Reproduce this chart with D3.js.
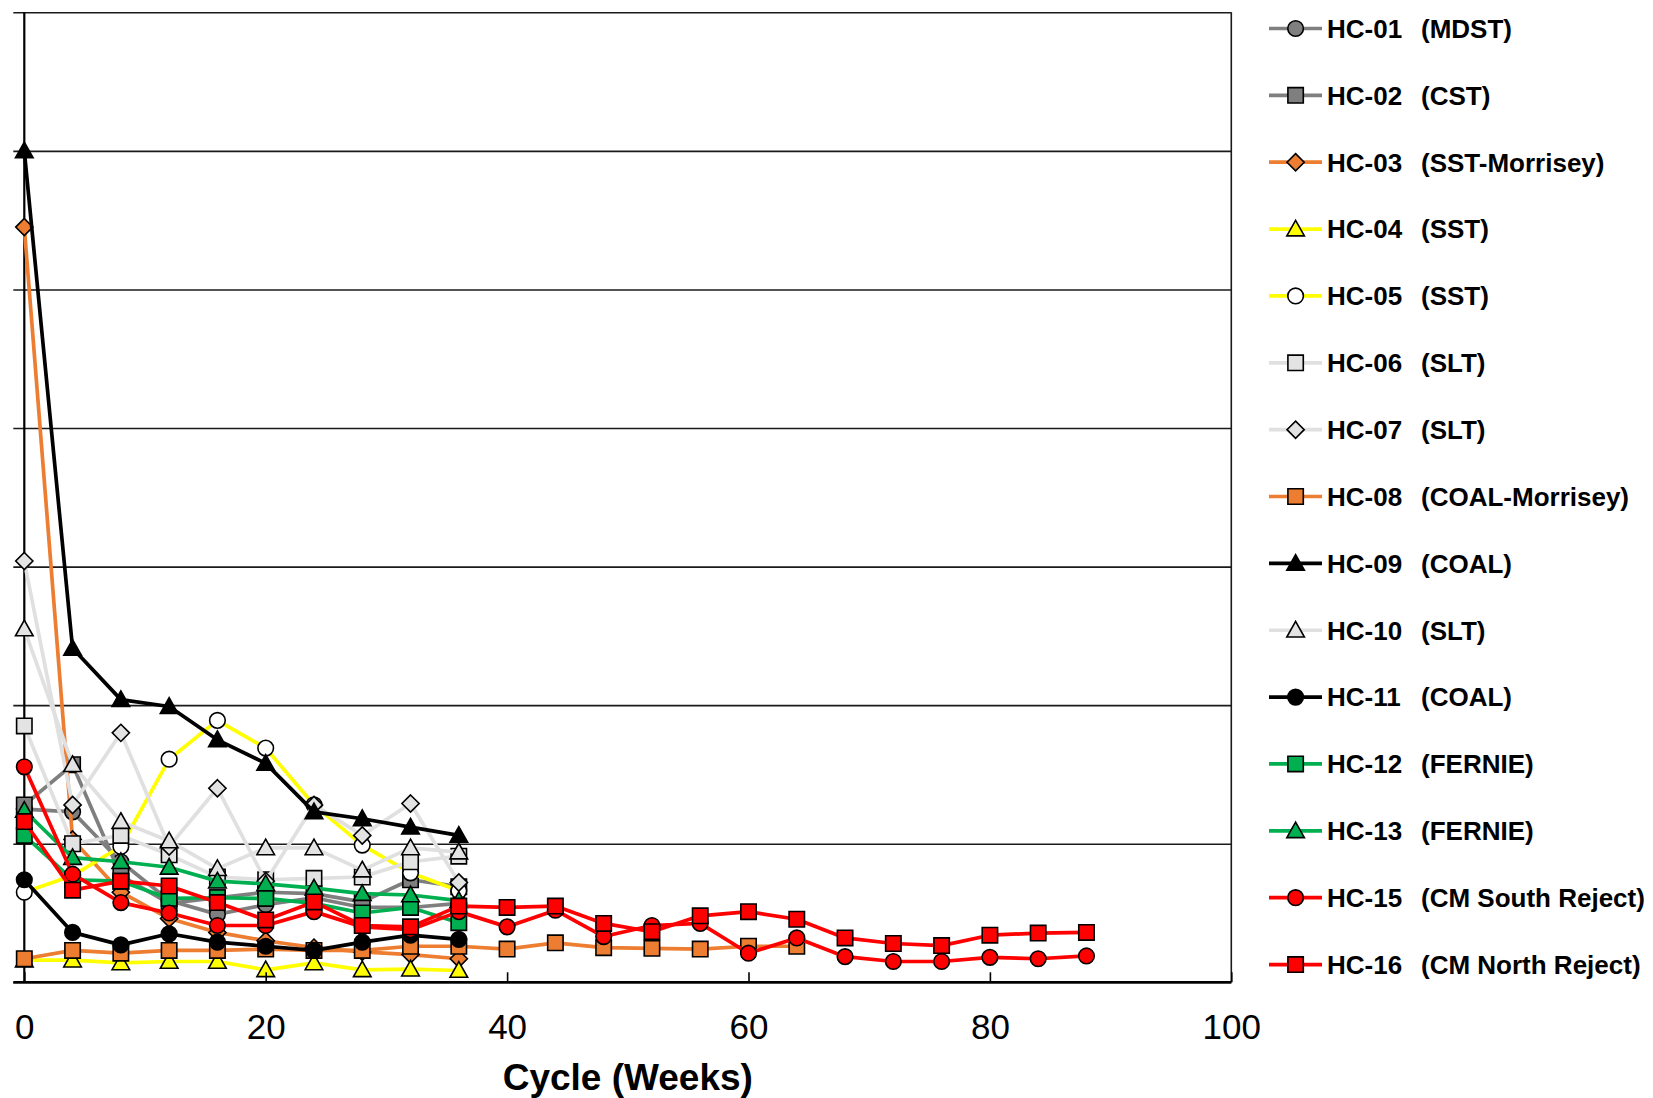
<!DOCTYPE html>
<html><head><meta charset="utf-8">
<script src="https://cdn.jsdelivr.net/npm/d3@7/dist/d3.min.js"></script>
<style>
body{margin:0;background:#fff}
svg{display:block}
text{font-family:Arial,"Liberation Sans",sans-serif}
</style>
</head><body>
<svg id="chart" width="1653" height="1098"></svg>
<script>
// ---- data ----
const weeksShort = [0,4,8,12,16,20,24,28,32,36];
const weeksMid = [0,4,8,12,16,20,24,28,32,36,40,44,48,52,56,60,64];
const weeksLong = [0,4,8,12,16,20,24,28,32,36,40,44,48,52,56,60,64,68,72,76,80,84,88];
const xTicks = [0,20,40,60,80,100];
const yTicks = [0,10,20,30,40,50,60,70];

const hc01 = [12.5,12.3,8.7,5.9,4.9,5.6,6.1,5.4,5.4,5.7];
const hc02 = [12.8,15.7,7.7,5.7,6.1,6.5,6.4,5.8,7.4,6.9];
const hc03 = [54.5,10.3,6.5,4.6,3.6,3.0,2.5,2.2,2.0,1.7];
const hc04 = [1.6,1.6,1.4,1.5,1.5,0.9,1.4,0.9,0.95,0.85];
const hc05 = [6.5,7.7,9.8,16.1,18.9,16.9,12.8,9.9,7.9,6.6];
const hc06 = [18.5,10.0,10.6,9.2,7.6,7.4,7.5,7.6,8.7,9.1];
const hc07 = [30.4,12.8,18.0,9.8,14.0,7.3,12.8,10.6,12.9,7.2];
const hc08 = [1.7,2.3,2.1,2.3,2.3,2.4,2.3,2.3,2.6,2.6,2.4,2.85,2.5,2.45,2.4,2.6,2.6];
const hc09 = [60,24.1,20.4,19.9,17.5,15.8,12.3,11.8,11.2,10.6];
const hc10 = [25.5,15.7,11.6,10.2,8.2,9.7,9.7,8.1,9.7,9.4];
const hc11 = [7.4,3.6,2.7,3.5,2.9,2.6,2.3,2.9,3.4,3.1];
const hc12 = [10.6,7.4,7.3,6.05,6.1,6.05,5.7,5.0,5.4,4.3];
const hc13 = [12.4,9.0,8.7,8.3,7.3,7.1,6.8,6.4,6.3,5.9];
const hc15 = [15.55,7.8,5.75,5.0,4.1,4.1,5.1,4.0,3.8,5.1,4.0,5.2,3.3,4.1,4.25,2.1,3.2,1.85,1.5,1.5,1.8,1.7,1.9];
const hc16 = [11.6,6.65,7.3,6.95,5.75,4.5,5.8,4.1,4.0,5.5,5.4,5.5,4.25,3.65,4.8,5.1,4.55,3.2,2.8,2.65,3.4,3.55,3.6];

const seriesNames = ["HC-01","HC-02","HC-03","HC-04","HC-05","HC-06","HC-07","HC-08","HC-09","HC-10","HC-11","HC-12","HC-13","HC-15","HC-16"];
const seriesTypes = ["(MDST)","(CST)","(SST-Morrisey)","(SST)","(SST)","(SLT)","(SLT)","(COAL-Morrisey)","(COAL)","(SLT)","(COAL)","(FERNIE)","(FERNIE)","(CM South Reject)","(CM North Reject)"];
const seriesX = [weeksShort,weeksShort,weeksShort,weeksShort,weeksShort,weeksShort,weeksShort,weeksMid,weeksShort,weeksShort,weeksShort,weeksShort,weeksShort,weeksLong,weeksLong];
const seriesY = [hc01,hc02,hc03,hc04,hc05,hc06,hc07,hc08,hc09,hc10,hc11,hc12,hc13,hc15,hc16];

// ---- styles ----
const lineColors = ["#7f7f7f","#7f7f7f","#ed7d31","#ffff00","#ffff00","#e0e0e0","#e0e0e0","#ed7d31","#000000","#e0e0e0","#000000","#00b050","#00b050","#ff0000","#ff0000"];
const markerFills = ["#7f7f7f","#7f7f7f","#ed7d31","#ffff00","#ffffff","#e3e3e3","#e3e3e3","#ed7d31","#000000","#e3e3e3","#000000","#00b050","#00b050","#ff0000","#ff0000"];
const markerShapes = ["circle","square","diamond","triangle","circle","square","diamond","square","triangle","triangle","circle","square","triangle","circle","square"];

function shapePath(t){
  if(t==="circle"){const r=7.8;return `M${-r},0A${r},${r} 0 1,0 ${r},0A${r},${r} 0 1,0 ${-r},0Z`;}
  if(t==="square"){const h=7.7;return `M${-h},${-h}H${h}V${h}H${-h}Z`;}
  if(t==="diamond"){const h=8.6;return `M0,${-h}L${h},0L0,${h}L${-h},0Z`;}
  return "M0,-8.8L8.8,6.8L-8.8,6.8Z";
}

const svg = d3.select("#chart");
const L=24.3, R=1231.3, T=12.3, B=982.3;
const x = d3.scaleLinear().domain([0,100]).range([L,R]);
const y = d3.scaleLinear().domain([0,70]).range([B,T]);

// gridlines + left ticks
const gy = svg.append("g").attr("transform",`translate(${L},0)`)
  .call(d3.axisLeft(y).tickValues(yTicks).tickFormat("").tickSizeInner(-(R-L)).tickSizeOuter(0));
gy.select(".domain").remove();
gy.selectAll(".tick line").attr("x1",-11).attr("stroke","#1a1a1a").attr("stroke-width",1.6);

// right border
svg.append("line").attr("x1",R).attr("x2",R).attr("y1",T).attr("y2",B)
  .attr("stroke","#1a1a1a").attr("stroke-width",1.6);
// left axis line
svg.append("line").attr("x1",L).attr("x2",L).attr("y1",T).attr("y2",B)
  .attr("stroke","#000").attr("stroke-width",2.2);

// series
const line = d3.line().x(d=>x(d[0])).y(d=>y(d[1]));
seriesY.forEach((vals,i)=>{
  const pts = vals.map((v,j)=>[seriesX[i][j],v]);
  const g = svg.append("g");
  g.append("path").attr("d",line(pts)).attr("fill","none")
    .attr("stroke",lineColors[i]).attr("stroke-width",3.7).attr("stroke-linejoin","round");
  g.selectAll("path.m").data(pts).enter().append("path").attr("class","m")
    .attr("d",shapePath(markerShapes[i]))
    .attr("transform",d=>`translate(${x(d[0])},${y(d[1])})`)
    .attr("fill",markerFills[i]).attr("stroke","#000").attr("stroke-width",1.6);
});

// bottom axis
const gx = svg.append("g").attr("transform",`translate(0,${B})`)
  .call(d3.axisBottom(x).tickValues(xTicks).tickSizeInner(-10).tickSizeOuter(0));
gx.select(".domain").attr("stroke","#000").attr("stroke-width",2.6).attr("d",`M${L-11},0H${R}`);
gx.selectAll(".tick line").attr("stroke","#000").attr("stroke-width",1.6);
gx.selectAll(".tick text").attr("y",57).attr("dy",0).attr("fill","#000")
  .style("font-size","35px").style("font-family","Arial, 'Liberation Sans', sans-serif");

svg.append("text").attr("x",(L+R)/2).attr("y",1090).attr("text-anchor","middle")
  .style("font-size","37px").style("font-weight","bold").text("Cycle (Weeks)");

// legend
const lg = svg.append("g");
seriesNames.forEach((n,i)=>{
  const cy = 28.5 + i*66.86;
  const g = lg.append("g").attr("transform",`translate(0,${cy})`);
  g.append("line").attr("x1",1269).attr("x2",1322).attr("y1",0).attr("y2",0)
    .attr("stroke",lineColors[i]).attr("stroke-width",3.7);
  g.append("path").attr("d",shapePath(markerShapes[i])).attr("transform","translate(1295.6,0)")
    .attr("fill",markerFills[i]).attr("stroke","#000").attr("stroke-width",1.6);
  const t = g.append("text").attr("y",9.3).style("font-size","26px").style("font-weight","bold").attr("fill","#000");
  t.append("tspan").attr("x",1327).text(n);
  t.append("tspan").attr("x",1421).text(seriesTypes[i]);
});
</script>
</body></html>
